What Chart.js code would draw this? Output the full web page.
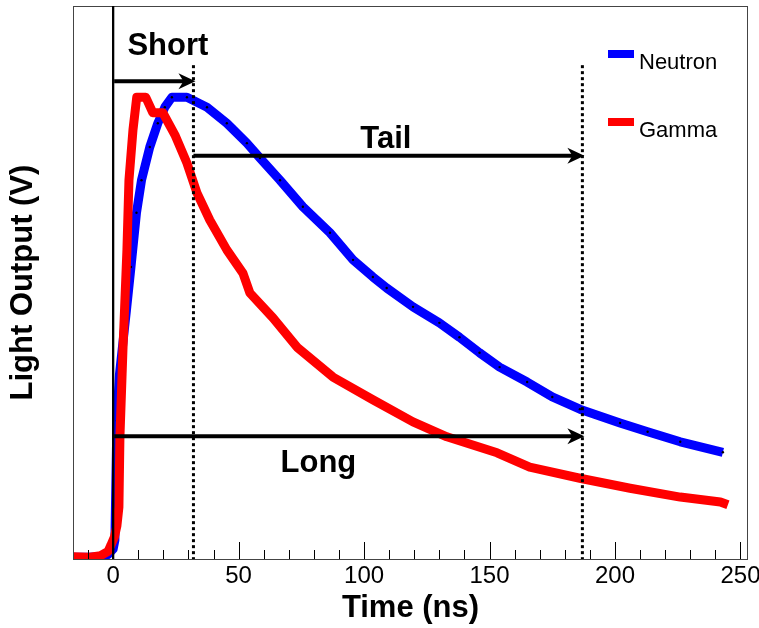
<!DOCTYPE html>
<html>
<head>
<meta charset="utf-8">
<script src="https://cdn.jsdelivr.net/npm/chart.js@4.4.1/dist/chart.umd.min.js"></script>
<style>
    body { margin: 0; background: #fff; }
    canvas { display: block; }
</style>
</head>
<body>
<canvas id="pulse-chart" width="759" height="628"></canvas>
<script>
const FONT = "'Liberation Sans', Arial, sans-serif";

// neutron pulse (blue)
const neutronTime = [-16, -10, -5, -2, 0, 0.7, 1.5, 2.5, 5.3, 7.1, 9.3, 11.3, 14.6, 17.8, 20.6, 23.4, 29.4,
    37.4, 45.3, 53.3, 58.5, 66.5, 75.6, 86.4, 95.6, 103.5, 109, 119.5, 130, 138, 146, 154, 165, 175, 186,
    202, 213, 226, 243];
const neutronLight = [0.003, 0.003, 0.004, 0.008, 0.018, 0.034, 0.25, 0.333, 0.45, 0.528, 0.626, 0.685, 0.745,
    0.788, 0.817, 0.835, 0.835, 0.817, 0.788, 0.752, 0.725, 0.685, 0.637, 0.59, 0.541, 0.51, 0.49, 0.456,
    0.427, 0.401, 0.373, 0.347, 0.32, 0.293, 0.271, 0.246, 0.23, 0.212, 0.193];

// gamma pulse (red)
const gammaTime = [-16, -10, -5, -2, -0.9, 0.5, 1.5, 2.3, 2.7, 3.9, 5.5, 6.3, 7.9, 9.4, 13, 15.8, 19.8, 24.6,
    29.4, 33.4, 38.5, 45.3, 51.7, 54.5, 63.7, 73.3, 87.6, 103.5, 119.5, 133, 153, 166, 186, 206, 226, 242, 245];
const gammaLight = [0.004, 0.003, 0.006, 0.014, 0.025, 0.04, 0.06, 0.094, 0.22, 0.378, 0.56, 0.685, 0.776,
    0.835, 0.835, 0.807, 0.807, 0.767, 0.716, 0.662, 0.613, 0.559, 0.517, 0.481, 0.436, 0.383, 0.329, 0.288,
    0.248, 0.221, 0.192, 0.166, 0.146, 0.128, 0.112, 0.103, 0.098];

const xTicks = [0, 50, 100, 150, 200, 250];
const seriesNames = ["Neutron", "Gamma"];
const seriesColors = ["#0000ff", "#ff0000"];

// integration gates (ns)
const gateStart = 0;
const gateShort = 32;
const gateLong = 187;

const toPoints = (xs, ys) => xs.map((t, i) => ({ x: t, y: ys[i] }));

function drawArrow(ctx, x1, x2, y) {
    ctx.lineWidth = 4;
    ctx.beginPath();
    ctx.moveTo(x1, y);
    ctx.lineTo(x2 - 8, y);
    ctx.stroke();
    ctx.beginPath();
    ctx.moveTo(x2, y);
    ctx.lineTo(x2 - 17, y - 8);
    ctx.lineTo(x2 - 12, y);
    ctx.lineTo(x2 - 17, y + 8);
    ctx.closePath();
    ctx.fill();
}

const extras = {
    id: "extras",
    beforeDraw(chart) {
        const ctx = chart.ctx;
        ctx.save();
        ctx.fillStyle = "#fff";
        ctx.fillRect(0, 0, chart.width, chart.height);
        ctx.restore();
    },
    afterDatasetsDraw(chart) {
        const { ctx, chartArea: area, scales: { x, y } } = chart;
        ctx.save();

        // frame
        ctx.strokeStyle = "#444";
        ctx.lineWidth = 1;
        ctx.strokeRect(area.left + 0.5, area.top + 0.5, area.right - area.left - 1, area.bottom - area.top);

        // x ticks, drawn inside the frame
        ctx.strokeStyle = "#000";
        for (let t = -10; t <= 250; t += 10) {
            const px = Math.round(x.getPixelForValue(t)) + 0.5;
            const len = t % 50 === 0 ? 17 : 9;
            ctx.beginPath();
            ctx.moveTo(px, area.bottom);
            ctx.lineTo(px, area.bottom - len);
            ctx.stroke();
        }

        // trigger line
        const x0 = x.getPixelForValue(gateStart);
        ctx.lineWidth = 2.3;
        ctx.beginPath();
        ctx.moveTo(x0, area.top);
        ctx.lineTo(x0, area.bottom);
        ctx.stroke();

        // gate lines
        const xs = x.getPixelForValue(gateShort);
        const xl = x.getPixelForValue(gateLong);
        ctx.lineWidth = 3;
        ctx.setLineDash([3, 3]);
        [xs, xl].forEach(px => {
            ctx.beginPath();
            ctx.moveTo(px, y.getPixelForValue(0.893));
            ctx.lineTo(px, area.bottom);
            ctx.stroke();
        });
        ctx.setLineDash([]);

        // arrows
        ctx.fillStyle = "#000";
        drawArrow(ctx, x0 + 1, xs + 2, y.getPixelForValue(0.864));
        drawArrow(ctx, xs, xl + 2, y.getPixelForValue(0.729));
        drawArrow(ctx, x0 + 1, xl + 2, y.getPixelForValue(0.222));

        // labels
        ctx.font = "bold 31px " + FONT;
        ctx.textAlign = "center";
        ctx.textBaseline = "alphabetic";
        ctx.fillText("Short", x.getPixelForValue(21.8), y.getPixelForValue(0.911));
        ctx.fillText("Tail", x.getPixelForValue(108.7), y.getPixelForValue(0.743));
        ctx.fillText("Long", x.getPixelForValue(81.8), y.getPixelForValue(0.157));

        // legend
        ctx.font = "22px " + FONT;
        ctx.textAlign = "left";
        seriesNames.forEach((name, i) => {
            const top = 50 + i * 68;
            ctx.fillStyle = seriesColors[i];
            ctx.fillRect(608, top, 26, 8);
            ctx.fillStyle = "#000";
            ctx.fillText(name, 639, top + 19);
        });

        ctx.restore();
    }
};

const chart = new Chart(document.getElementById("pulse-chart"), {
    type: "line",
    data: {
        datasets: [
            {
                label: seriesNames[0],
                data: toPoints(neutronTime, neutronLight),
                borderColor: seriesColors[0],
                borderWidth: 9,
                borderJoinStyle: "round",
                pointRadius: 1.2,
                pointBorderWidth: 0,
                pointBackgroundColor: "#000",
                order: 1
            },
            {
                label: seriesNames[1],
                data: toPoints(gammaTime, gammaLight),
                borderColor: seriesColors[1],
                borderWidth: 9,
                borderJoinStyle: "round",
                pointRadius: 0,
                order: 0
            }
        ]
    },
    options: {
        responsive: false,
        animation: false,
        layout: { padding: { top: 6, right: 11, left: 0, bottom: 0 } },
        plugins: { legend: { display: false }, tooltip: { enabled: false } },
        scales: {
            x: {
                type: "linear",
                min: -16,
                max: 253,
                grid: { display: false, drawTicks: false },
                border: { display: false },
                afterBuildTicks: scale => { scale.ticks = xTicks.map(v => ({ value: v })); },
                afterFit: scale => {
                    scale.height = 69;
                    scale.paddingLeft = 0;
                    scale.paddingRight = 0;
                },
                ticks: {
                    padding: 3,
                    maxRotation: 0,
                    color: "#000",
                    font: { family: FONT, size: 24 }
                },
                title: {
                    display: true,
                    text: "Time (ns)",
                    color: "#000",
                    padding: { top: 0, bottom: 1 },
                    font: { family: FONT, size: 31, weight: "bold" }
                }
            },
            y: {
                min: 0,
                max: 1,
                grid: { display: false, drawTicks: false },
                border: { display: false },
                ticks: { display: false },
                afterFit: scale => { scale.width = 73; },
                title: {
                    display: true,
                    text: "Light Output (V)",
                    color: "#000",
                    padding: { top: 5, bottom: 0 },
                    font: { family: FONT, size: 31, weight: "bold" }
                }
            }
        }
    },
    plugins: [extras]
});
</script>
</body>
</html>
